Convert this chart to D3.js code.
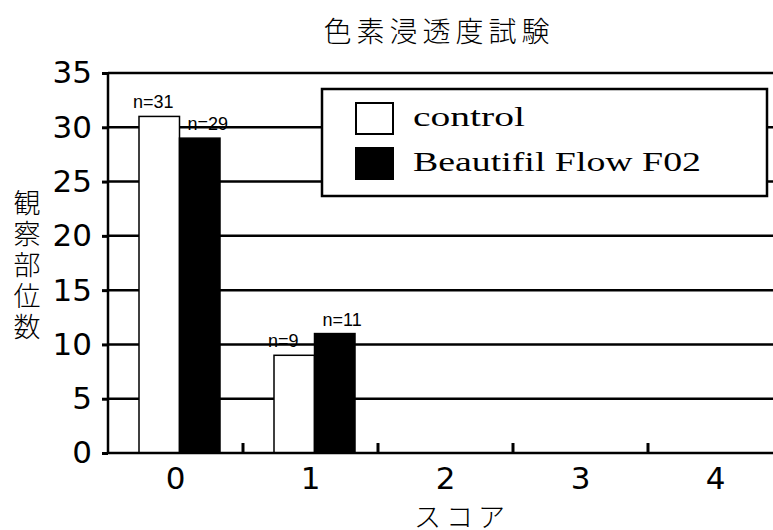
<!DOCTYPE html>
<html>
<head>
<meta charset="utf-8">
<script src="https://cdn.jsdelivr.net/npm/d3@7"></script>
<style>
  body { margin: 0; background: #fff; }
  svg { display: block; }
</style>
</head>
<body>
<div id="vis"></div>
<script>
// data
var scores = ["0", "1", "2", "3", "4"];
var seriesNames = ["control", "Beautifil Flow F02"];
var controlCounts = [31, 9, 0, 0, 0];
var flowCounts = [29, 11, 0, 0, 0];
var yTicks = [0, 5, 10, 15, 20, 25, 30, 35];

const width = 773;
const height = 530;

var svg = d3.select("#vis")
  .append("svg")
  .attr("width", width)
  .attr("height", height);

var x = d3.scaleBand()
  .domain(scores)
  .range([108, 783]);

var xSub = d3.scaleBand()
  .domain(seriesNames)
  .range([31, 112]);

var y = d3.scaleLinear()
  .domain([0, 35])
  .range([453, 73]);

var fills = { "control": "#fff", "Beautifil Flow F02": "#000" };

// gridlines
svg.append("g")
  .selectAll("line")
  .data(yTicks.filter(function(d) { return d > 0; }))
  .enter()
  .append("line")
  .attr("x1", 108)
  .attr("x2", width)
  .attr("y1", function(d) { return y(d); })
  .attr("y2", function(d) { return y(d); })
  .attr("stroke", "#000")
  .attr("stroke-width", 2.5);

// bars
var rows = [];
scores.forEach(function(s, i) {
  rows.push({ score: s, series: "control", value: controlCounts[i] });
  rows.push({ score: s, series: "Beautifil Flow F02", value: flowCounts[i] });
});

var shown = rows.filter(function(d) { return d.value > 0; });

svg.append("g")
  .selectAll("rect")
  .data(shown)
  .enter()
  .append("rect")
  .attr("x", function(d) { return x(d.score) + xSub(d.series); })
  .attr("y", function(d) { return y(d.value); })
  .attr("width", xSub.bandwidth())
  .attr("height", function(d) { return y(0) - y(d.value); })
  .attr("fill", function(d) { return fills[d.series]; })
  .attr("stroke", "#000")
  .attr("stroke-width", 1.5);

// n= labels, left-aligned near each bar
svg.append("g")
  .selectAll("text")
  .data(shown)
  .enter()
  .append("text")
  .attr("x", function(d) {
    return x(d.score) + xSub(d.series) + (d.series == "control" ? -6 : 8);
  })
  .attr("y", function(d) { return y(d.value) - 8; })
  .style("font-family", "'Liberation Sans', Arial, sans-serif")
  .style("font-size", "18px")
  .text(function(d) { return "n=" + d.value; });

// y axis
var yAxis = svg.append("g")
  .attr("transform", "translate(108,0)")
  .call(d3.axisLeft(y).tickValues(yTicks).tickSize(6).tickPadding(10));
yAxis.select(".domain").attr("stroke-width", 2.5).attr("d", "M0," + y(35) + "V" + y(0));
yAxis.selectAll(".tick line").attr("stroke-width", 3);
yAxis.selectAll("text")
  .style("font-family", "'DejaVu Sans', Verdana, sans-serif")
  .style("font-size", "31px");

// x axis
var xAxis = svg.append("g")
  .attr("transform", "translate(0," + y(0) + ")")
  .call(d3.axisBottom(x).tickSize(0).tickPadding(14));
xAxis.select(".domain").attr("stroke-width", 2.5).attr("d", "M108,0H" + width);
xAxis.selectAll("text")
  .style("font-family", "'DejaVu Sans', Verdana, sans-serif")
  .style("font-size", "31px");

// small upward ticks between categories
svg.append("g")
  .selectAll("line")
  .data(scores.slice(1))
  .enter()
  .append("line")
  .attr("x1", function(d) { return x(d); })
  .attr("x2", function(d) { return x(d); })
  .attr("y1", y(0))
  .attr("y2", y(0) - 10)
  .attr("stroke", "#000")
  .attr("stroke-width", 3);

// legend
var legend = svg.append("g");
legend.append("rect")
  .attr("x", 322)
  .attr("y", 89)
  .attr("width", 445)
  .attr("height", 107)
  .attr("fill", "#fff")
  .attr("stroke", "#000")
  .attr("stroke-width", 2.5);

var items = legend.selectAll("g.item")
  .data(seriesNames)
  .enter()
  .append("g")
  .attr("class", "item")
  .attr("transform", function(d, i) { return "translate(356," + (103 + i * 45) + ")"; });

items.append("rect")
  .attr("width", 37)
  .attr("height", 31)
  .attr("fill", function(d) { return fills[d]; })
  .attr("stroke", "#000")
  .attr("stroke-width", 2);

items.append("text")
  .attr("x", 57)
  .attr("y", 23)
  .attr("textLength", function(d) { return d.length * 16; })
  .attr("lengthAdjust", "spacingAndGlyphs")
  .style("font-family", "'Liberation Serif', 'DejaVu Serif', serif")
  .style("font-size", "28px")
  .text(function(d) { return d; });

// title and axis titles
svg.append("text")
  .attr("x", 439)
  .attr("y", 42)
  .attr("text-anchor", "middle")
  .style("font-family", "'Noto Sans CJK JP', sans-serif")
  .style("font-size", "28px")
  .style("font-weight", 300)
  .style("letter-spacing", "5px")
  .text("色素浸透度試験");

svg.append("text")
  .attr("x", 462)
  .attr("y", 527)
  .attr("text-anchor", "middle")
  .style("font-family", "'Noto Sans CJK JP', sans-serif")
  .style("font-size", "27px")
  .style("font-weight", 300)
  .style("letter-spacing", "5px")
  .text("スコア");

// vertical y title
svg.append("text")
  .attr("x", 27)
  .attr("y", 189)
  .style("writing-mode", "vertical-rl")
  .style("font-family", "'Noto Sans CJK JP', sans-serif")
  .style("font-size", "27px")
  .style("font-weight", 300)
  .style("letter-spacing", "4px")
  .text("観察部位数");
</script>
</body>
</html>
